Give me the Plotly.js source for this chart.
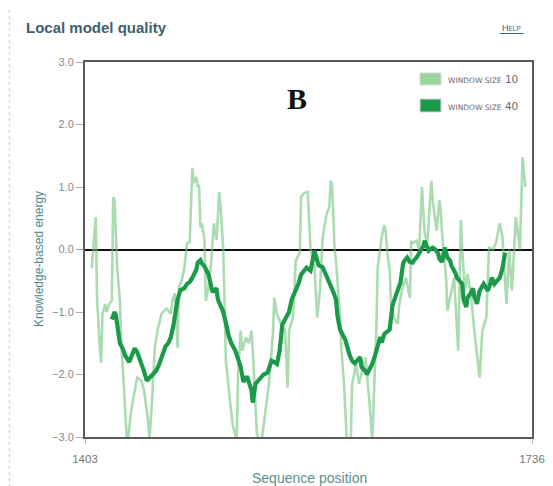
<!DOCTYPE html>
<html>
<head>
<meta charset="utf-8">
<script src="https://cdn.plot.ly/plotly-3.0.1.min.js"></script>
<style>
html,body{margin:0;padding:0;background:#fff;}
#chart{width:553px;height:486px;}
</style>
</head>
<body>
<div id="chart"></div>
<script>
// Window size 40 (smoothed) energy profile
var posW40 = [1423,1425,1426,1428,1429,1431,1433,1436,1439,1440,1442,1445,1447,1449,1451,1454,1456,1458,1460,1463,1465,1467,1469,1471,1472,1474,1477,1479,1481,1483,1486,1487,1489,1490,1492,1495,1496,1498,1501,1502,1504,1506,1508,1510,1512,1515,1517,1519,1521,1523,1524,1527,1528,1530,1532,1534,1536,1539,1541,1542,1544,1546,1548,1550,1553,1555,1557,1559,1562,1564,1566,1568,1571,1573,1574,1576,1577,1580,1582,1584,1586,1588,1590,1591,1593,1595,1597,1600,1602,1604,1606,1608,1609,1612,1613,1615,1617,1619,1620,1623,1624,1626,1629,1630,1632,1634,1635,1638,1639,1640,1641,1643,1645,1647,1649,1650,1653,1655,1656,1658,1659,1661,1662,1664,1666,1667,1669,1671,1673,1675,1676,1679,1680,1682,1684,1685,1687,1688,1691,1692,1693,1695,1697,1700,1702,1703,1705,1706,1708,1709,1711,1712,1714,1716];
var energyW40 = [-1.12,-1.00,-1.05,-1.30,-1.50,-1.58,-1.70,-1.80,-1.65,-1.58,-1.65,-1.82,-1.95,-2.10,-2.05,-2.00,-1.94,-1.85,-1.73,-1.55,-1.50,-1.40,-1.20,-0.85,-0.80,-0.65,-0.62,-0.55,-0.52,-0.45,-0.32,-0.21,-0.17,-0.22,-0.27,-0.40,-0.50,-0.68,-0.62,-0.80,-0.90,-1.00,-1.18,-1.38,-1.50,-1.62,-1.75,-1.88,-2.12,-2.05,-2.05,-2.25,-2.45,-2.15,-2.10,-2.05,-2.00,-1.97,-1.85,-1.78,-1.80,-1.83,-1.62,-1.20,-1.08,-1.00,-0.80,-0.70,-0.55,-0.40,-0.35,-0.29,-0.34,-0.10,-0.02,-0.18,-0.25,-0.28,-0.38,-0.45,-0.58,-0.68,-0.80,-1.05,-1.28,-1.35,-1.45,-1.68,-1.78,-1.82,-1.78,-1.72,-1.88,-1.95,-2.00,-1.92,-1.83,-1.70,-1.62,-1.40,-1.49,-1.35,-1.30,-1.28,-0.90,-0.80,-0.71,-0.53,-0.35,-0.22,-0.18,-0.13,-0.20,-0.21,-0.15,-0.13,-0.02,0.05,0.14,0.05,-0.02,0.02,0.03,0.00,-0.06,-0.15,-0.20,0.03,-0.13,-0.18,-0.26,-0.38,-0.45,-0.50,-0.55,-0.80,-0.92,-0.77,-0.68,-0.62,-0.75,-0.87,-0.66,-0.55,-0.62,-0.66,-0.55,-0.45,-0.55,-0.52,-0.48,-0.45,-0.30,-0.05];

// Window size 10 energy profile
var posW10 = [1408,1410,1411,1412,1413,1414,1415,1416,1418,1419,1420,1421,1423,1424,1425,1426,1427,1429,1430,1432,1434,1435,1436,1437,1440,1442,1445,1447,1450,1451,1453,1455,1457,1460,1462,1464,1467,1468,1470,1472,1473,1475,1477,1479,1481,1483,1484,1486,1487,1488,1489,1490,1492,1493,1495,1497,1499,1501,1503,1504,1506,1507,1508,1511,1513,1516,1517,1519,1520,1523,1525,1527,1528,1531,1533,1535,1538,1540,1543,1544,1546,1549,1552,1554,1555,1558,1560,1563,1564,1566,1569,1570,1571,1574,1576,1578,1580,1583,1585,1586,1587,1589,1590,1593,1594,1596,1598,1601,1602,1605,1607,1610,1612,1615,1617,1620,1621,1624,1626,1627,1628,1630,1631,1633,1636,1637,1639,1642,1645,1646,1647,1650,1652,1654,1656,1658,1661,1662,1665,1667,1668,1669,1672,1673,1676,1678,1681,1683,1684,1686,1688,1691,1693,1695,1697,1699,1702,1704,1707,1709,1712,1714,1717,1719,1721,1724,1727,1729,1730,1731];
var energyW10 = [-0.30,0.20,0.52,-0.80,-1.30,-1.57,-1.81,-1.03,-0.87,-1.00,-0.95,-0.87,-0.82,0.84,0.79,0.35,-0.30,-0.82,-1.50,-2.20,-3.00,-3.10,-2.90,-2.63,-2.26,-2.05,-2.10,-2.26,-2.74,-3.05,-2.40,-1.57,-1.30,-1.03,-0.98,-0.95,-1.03,-0.82,-0.70,-1.57,-0.60,-0.50,-0.30,0.10,0.12,1.30,1.06,1.16,1.00,1.03,0.35,0.42,0.15,-0.82,-0.60,-0.20,0.42,0.15,0.92,0.68,0.00,-0.82,-1.80,-2.42,-2.80,-3.05,-2.00,-1.30,-1.62,-1.41,-1.50,-1.30,-1.62,-2.95,-3.05,-3.00,-2.47,-2.15,-1.35,-0.77,-1.03,-1.19,-1.30,-2.21,-1.30,-1.09,-0.18,-0.05,0.84,0.90,0.92,0.52,0.00,-0.29,-1.09,-0.66,0.19,0.57,0.68,1.10,1.05,0.00,-0.18,-1.09,-1.60,-2.15,-3.05,-3.05,-2.15,-1.83,-2.15,-1.90,-1.73,-2.47,-3.05,-1.30,-0.29,0.19,0.39,0.30,0.00,-0.34,-0.87,-1.09,-1.19,-0.90,-0.66,-0.45,-0.77,0.14,0.10,0.14,0.00,1.00,0.26,0.10,1.10,0.79,0.30,0.79,0.63,0.26,-0.45,-0.98,-0.66,-0.45,-1.62,0.47,0.00,-0.66,-0.39,-0.82,-1.30,-1.73,-2.05,-1.30,-1.09,0.03,0.00,0.10,0.42,0.20,-0.87,0.00,-0.66,0.52,0.00,1.48,1.27,1.00];

var xTickVals = [1403, 1736];
var xTickText = ['1403', '1736'];
var yTickVals = [-3, -2, -1, 0, 1, 2, 3];
var seriesNames = ['window size 10', 'window size 40'];

var lightColor = 'rgba(115,195,125,0.6)';
var darkColor = '#1b9a4a';

var traces = [
  {x: posW10, y: energyW10, type: 'scatter', mode: 'lines', name: seriesNames[0],
   line: {color: lightColor, width: 2.6}, showlegend: false, hoverinfo: 'skip'},
  {x: posW40, y: energyW40, type: 'scatter', mode: 'lines', name: seriesNames[1],
   line: {color: darkColor, width: 4.2}, showlegend: false, hoverinfo: 'skip'}
];

function px2x(px){ return (px - 85) / 447; }
function py2y(py){ return (437 - py) / 375; }

var legendFont = {family: 'DejaVu Sans, sans-serif', size: 10.5, color: '#6a6a6a'};

var layout = {
  width: 553, height: 486,
  margin: {l: 85, r: 21, t: 62, b: 49, pad: 0},
  paper_bgcolor: '#ffffff', plot_bgcolor: '#ffffff',
  showlegend: false,
  font: {family: 'Liberation Sans, Arial, sans-serif'},
  xaxis: {
    range: [1403, 1736], tickmode: 'array', tickvals: xTickVals, ticktext: xTickText,
    showgrid: false, zeroline: false, showline: true, mirror: true,
    linecolor: '#5a5a5a', linewidth: 2,
    ticks: 'outside', ticklen: 5, tickcolor: '#bbb', tickwidth: 1,
    tickfont: {size: 11.5, color: '#777'}, ticklabelstandoff: 5
  },
  yaxis: {
    range: [-3, 3], tickmode: 'array', tickvals: yTickVals, tickformat: '.1f',
    showgrid: false, zeroline: true, zerolinecolor: '#111', zerolinewidth: 2,
    showline: true, mirror: true, linecolor: '#5a5a5a', linewidth: 2,
    ticks: 'outside', ticklen: 7, tickcolor: '#aaa', tickwidth: 1,
    tickfont: {size: 11, color: '#888'}
  },
  shapes: [
    {type: 'line', xref: 'paper', yref: 'paper', x0: px2x(9.5), x1: px2x(9.5), y0: py2y(10), y1: py2y(486),
     line: {color: '#c8e6c2', width: 1.5, dash: 'dot'}},
    {type: 'line', xref: 'paper', yref: 'paper', x0: px2x(500), x1: px2x(523.5), y0: py2y(33.5), y1: py2y(33.5),
     line: {color: '#3e6070', width: 1}},
    {type: 'rect', xref: 'paper', yref: 'paper', x0: px2x(420), x1: px2x(441), y0: py2y(73), y1: py2y(85),
     fillcolor: '#9bd49d', line: {color: '#d8d8d8', width: 1}},
    {type: 'rect', xref: 'paper', yref: 'paper', x0: px2x(420), x1: px2x(441), y0: py2y(99), y1: py2y(112),
     fillcolor: darkColor, line: {color: '#d8d8d8', width: 1}}
  ],
  annotations: [
    {text: '<b>Local model quality</b>', xref: 'paper', yref: 'paper', x: px2x(24), y: py2y(27),
     xanchor: 'left', yanchor: 'middle', showarrow: false,
     font: {family: 'Liberation Sans, Arial, sans-serif', size: 15, color: '#3e6070'}},
    {text: 'H<span style="font-size:6.5px">ELP</span>', xref: 'paper', yref: 'paper', x: px2x(500), y: py2y(28),
     xanchor: 'left', yanchor: 'middle', showarrow: false,
     font: {family: 'Liberation Sans, Arial, sans-serif', size: 9, color: '#3e6070'}},
    {text: 'Knowledge-based energy', xref: 'paper', yref: 'paper', x: px2x(39), y: py2y(259),
     xanchor: 'center', yanchor: 'middle', textangle: -90, showarrow: false,
     font: {family: 'Liberation Sans, Arial, sans-serif', size: 12, color: '#4f8a87'}},
    {text: 'Sequence position', xref: 'paper', yref: 'paper', x: px2x(309.5), y: py2y(478),
     xanchor: 'center', yanchor: 'middle', showarrow: false,
     font: {family: 'Liberation Sans, Arial, sans-serif', size: 14, color: '#5a8f8c'}},
    {text: '<b>B</b>', xref: 'paper', yref: 'paper', x: px2x(296.5), y: py2y(98),
     xanchor: 'center', yanchor: 'middle', showarrow: false,
     font: {family: 'Liberation Serif, Times New Roman, serif', size: 30, color: '#111'}},
    {text: '<span style="font-size:7.5px">WINDOW SIZE</span> 10', xref: 'paper', yref: 'paper', x: px2x(446), y: py2y(79),
     xanchor: 'left', yanchor: 'middle', showarrow: false, font: legendFont},
    {text: '<span style="font-size:7.5px">WINDOW SIZE</span> 40', xref: 'paper', yref: 'paper', x: px2x(446), y: py2y(105.5),
     xanchor: 'left', yanchor: 'middle', showarrow: false, font: legendFont}
  ]
};

Plotly.newPlot('chart', traces, layout, {staticPlot: true, displayModeBar: false});
</script>
</body>
</html>
